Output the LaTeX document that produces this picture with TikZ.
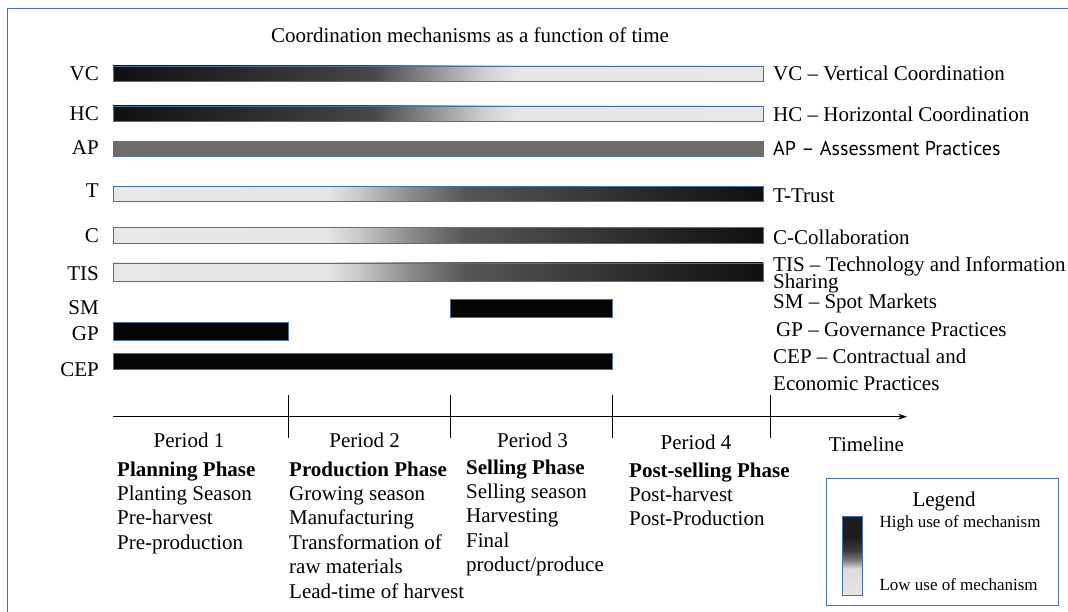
\documentclass[tikz,border=0pt]{standalone}
\usepackage{fontspec}
\setmainfont{Liberation Serif}
\newfontfamily\apfont[Ligatures=TeX]{PT Sans}
\usepackage{xcolor}
\usepackage{tikz}
\usetikzlibrary{arrows.meta}
\definecolor{CMBlue}{HTML}{4A6FA8}
\definecolor{CMBlack}{HTML}{050505}
\definecolor{CMMid}{HTML}{716C6C}
\pgfdeclarehorizontalshading{cmfadeout}{100bp}{color(0bp)=(black!94); color(25bp)=(black!94); color(40bp)=(black!78); color(45bp)=(black!72); color(53.5bp)=(black!19); color(56bp)=(black!10); color(75bp)=(black!9); color(100bp)=(black!9)}
\pgfdeclarehorizontalshading{cmfadein}{100bp}{color(0bp)=(black!9); color(25bp)=(black!9); color(41.5bp)=(black!10); color(44bp)=(black!22); color(48bp)=(black!46); color(52bp)=(black!66); color(57.5bp)=(black!73); color(66bp)=(black!84); color(75bp)=(black!94); color(100bp)=(black!94)}
\pgfdeclareverticalshading{cmlegend}{100bp}{color(0bp)=(black!10); color(25bp)=(black!10); color(42bp)=(black!14); color(47.5bp)=(black!53); color(53.5bp)=(black!77); color(62bp)=(black!89); color(100bp)=(black!89)}

\begin{document}
\begin{tikzpicture}[x=1pt,y=-1pt,
  every node/.style={inner sep=0pt,font=\fontsize{21}{24.4}\selectfont},
  cmbar/.style={draw=CMBlue,line width=0.8pt},
  cmtick/.style={line width=0.8pt},
  cmphase/.style={anchor=north west,align=left},
  cmsmall/.style={font=\fontsize{17}{20}\selectfont}]
\path[use as bounding box] (0,0) rectangle (1068,612);
\draw[CMBlue,line width=0.8pt] (7,640) -- (7,8.5) -- (1090,8.5);
\node[anchor=base] (title) at (470,42.5) {Coordination mechanisms as a function of time};
\node[anchor=base east] (vc) at (99,80.5) {VC};
\node[anchor=base east] (hc) at (99,121) {HC};
\node[anchor=base east] (ap) at (99,155) {AP};
\node[anchor=base east] (t) at (99,198) {T};
\node[anchor=base east] (c) at (99,243) {C};
\node[anchor=base east] (tis) at (99,280) {TIS};
\node[anchor=base east] (sm) at (99,314) {SM};
\node[anchor=base east] (gp) at (99,340) {GP};
\node[anchor=base east] (cep) at (99,376) {CEP};
\shade[cmbar,shading=cmfadeout] (113,66) rectangle (763,81);
\shade[cmbar,shading=cmfadeout] (113,106) rectangle (763,121.5);
\fill[cmbar,fill=CMMid] (113,141.5) rectangle (763,156.5);
\shade[cmbar,shading=cmfadein] (113,186.5) rectangle (763,201.5);
\shade[cmbar,shading=cmfadein] (113,227.5) rectangle (763,243);
\shade[cmbar,shading=cmfadein] (113,263) rectangle (763,281);
\fill[cmbar,fill=CMBlack] (450,299) rectangle (612,317);
\fill[cmbar,fill=CMBlack] (113,322.5) rectangle (288,340);
\fill[cmbar,fill=CMBlack] (113,353) rectangle (612,369);
\node[anchor=base west] (vcname) at (773,81) {VC -- Vertical Coordination};
\node[anchor=base west] (hcname) at (773,122) {HC -- Horizontal Coordination};
\node[anchor=base west,font=\fontsize{20}{24}\apfont] (apname) at (773,156) {AP -- Assessment Practices};
\node[anchor=base west] (tname) at (773,203) {T-Trust};
\node[anchor=base west] (cname) at (773,245) {C-Collaboration};
\node[anchor=base west] (tisname) at (773,271.7) {TIS -- Technology and Information};
\node[anchor=base west] (tisname2) at (773,288.3) {Sharing};
\node[anchor=base west] (smname) at (773,308.3) {SM -- Spot Markets};
\node[anchor=base west] (gpname) at (776,336.7) {GP -- Governance Practices};
\node[anchor=base west] (cepname) at (773,363.3) {CEP -- Contractual and};
\node[anchor=base west] (cepname2) at (773,390) {Economic Practices};
\coordinate (tlstart) at (113,416.7);
\coordinate (tlend) at (907,416.7);
\draw[cmtick,-{Stealth[length=9pt,width=6pt]}] (tlstart) -- (tlend);
\draw[cmtick] (288,395) -- (288,438);
\draw[cmtick] (450,395) -- (450,438);
\draw[cmtick] (612,395) -- (612,438);
\draw[cmtick] (770,395) -- (770,438);
\node[anchor=base] (p1) at (189,447) {Period 1};
\node[anchor=base] (p2) at (364.7,447) {Period 2};
\node[anchor=base] (p3) at (532.5,447) {Period 3};
\node[anchor=base] (p4) at (696,449) {Period 4};
\node[cmphase] (phase1) at (117,458.9) {\strut\textbf{Planning Phase}\\Planting Season\\Pre-harvest\\Pre-production};
\node[cmphase] (phase2) at (289,458.9) {\strut\textbf{Production Phase}\\Growing season\\Manufacturing\\Transformation of\\raw materials\\Lead-time of harvest};
\node[cmphase] (phase3) at (466,456.9) {\strut\textbf{Selling Phase}\\Selling season\\Harvesting\\Final\\product/produce};
\node[cmphase] (phase4) at (629,459.9) {\strut\textbf{Post-selling Phase}\\Post-harvest\\Post-Production};
\node[anchor=base] (timeline) at (866.5,451.7) {Timeline};
\draw[CMBlue,line width=0.8pt] (826.7,478) rectangle (1058,605);
\node[anchor=base] (legend) at (944,506) {Legend};
\shade[cmbar,shading=cmlegend] (842.7,516) rectangle (862.7,595.7);
\node[anchor=base west,cmsmall] (high) at (879.3,527.3) {High use of mechanism};
\node[anchor=base west,cmsmall] (low) at (879.3,590) {Low use of mechanism};
\end{tikzpicture}
\end{document}
